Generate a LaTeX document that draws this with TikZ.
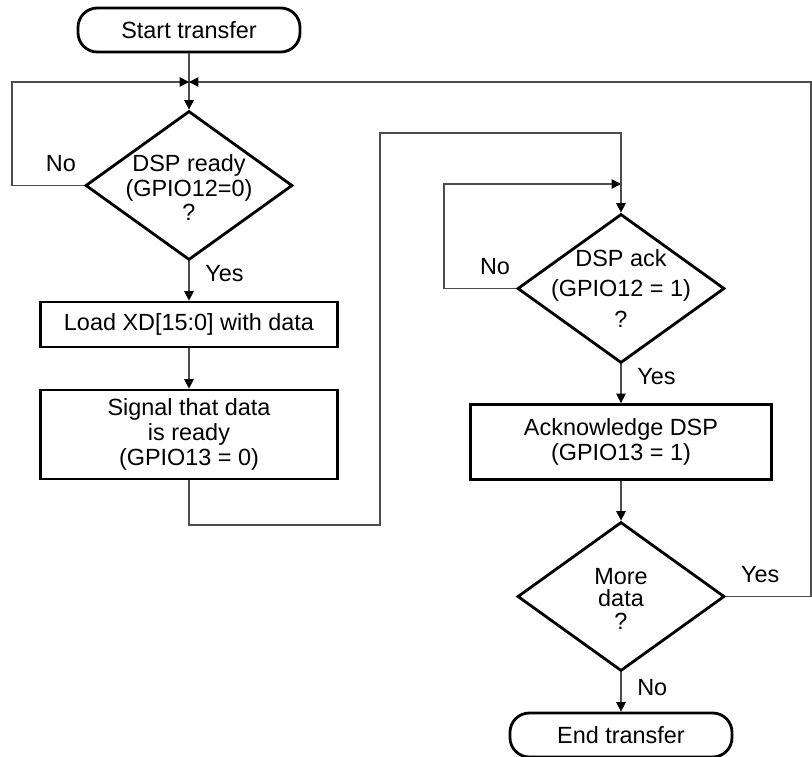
\documentclass[tikz,border=0pt]{standalone}
\usepackage{fontspec}
\setmainfont{Liberation Sans}
\usetikzlibrary{shapes.geometric,arrows.meta}
\tikzset{
  >={Triangle[length=8pt,width=8pt,color=black]},
}
\tikzstyle{every node}=[font=\fontsize{20}{21}\selectfont]
\tikzstyle{terminal}=[draw,line width=2.4pt,rounded corners=0.58cm,minimum width=6.66cm,minimum height=1.32cm]
\tikzstyle{process}=[draw,line width=2.4pt,minimum width=8.91cm,align=center]
\tikzstyle{decision}=[draw,diamond,line width=2.4pt,minimum width=6.21cm,minimum height=4.47cm,inner sep=0pt]
\tikzstyle{flow}=[line width=1.2pt,black!70]
\tikzstyle{branch}=[text=black]

\begin{document}
\begin{tikzpicture}[x=0.03cm,y=-0.03cm]
    \useasboundingbox (0,0) rectangle (812,757);
    % left column
    \node[terminal] (start) at (189,30) {Start transfer};
    \node[decision] (ready) at (189,185.5) {};
    \node[align=center] (readytxt) at ([yshift=-2]ready) {DSP ready\\(GPIO12=0)\\?};
    \node[process,minimum height=1.35cm] (load) at (189,324.5) {Load XD[15:0] with data};
    \node[process,minimum height=2.67cm] (signal) at (189,434.5) {Signal that data\\is ready\\(GPIO13 = 0)};
    % right column
    \node[decision] (ack) at (621,288.5) {};
    \node[align=center] (acktxt) at (ack) {DSP ack\\[5pt](GPIO12 = 1)\\[5pt]?};
    \node[process,minimum width=9.03cm,minimum height=2.25cm] (acknowledge) at (621,442) {Acknowledge DSP\\(GPIO13 = 1)};
    \node[decision] (more) at (621,596.5) {};
    \node[align=center] (moretxt) at ([yshift=-2]more) {More\\[-2pt]data\\[-2pt]?};
    \node[terminal] (stop) at (621,735) {End transfer};
    % corners of the loops
    \coordinate (merge) at (189,82);
    \coordinate (leftrail) at (12,82);
    \coordinate (rightrail) at (811,82);
    \coordinate (jog) at (380,525);
    \coordinate (entry) at (621,133);
    \coordinate (innerrail) at (444,184);
    \coordinate (ackin) at (621,184);
    % connectors
    \draw[flow,->] (start.south) -- (ready.north);
    \draw[flow,->] (ready.west) -| (leftrail) -- (merge);
    \draw[flow,->] (ready.south) -- node[branch,right=10pt,pos=.3]{Yes} (load.north);
    \draw[flow,->] (load.south) -- (signal.north);
    \draw[flow,->] (signal.south) |- (jog) |- (entry) -- (ack.north);
    \draw[flow,->] (ack.west) -| (innerrail) -- (ackin);
    \draw[flow,->] (ack.south) -- node[branch,right=10pt,pos=.32]{Yes} (acknowledge.north);
    \draw[flow,->] (acknowledge.south) -- (more.north);
    \draw[flow,->] (more.south) -- node[branch,right=10pt,pos=.39]{No} (stop.north);
    \draw[flow,->] (more.east) -| (rightrail) -- (merge);
    % branch labels
    \node[anchor=south east] (readyno) at ([shift={(-4,-10)}]ready.west) {No};
    \node[anchor=south east] (ackno) at ([shift={(-2,-10)}]ack.west) {No};
    \node[anchor=south west] (moreyes) at ([shift={(11,-10)}]more.east) {Yes};
\end{tikzpicture}
\end{document}
